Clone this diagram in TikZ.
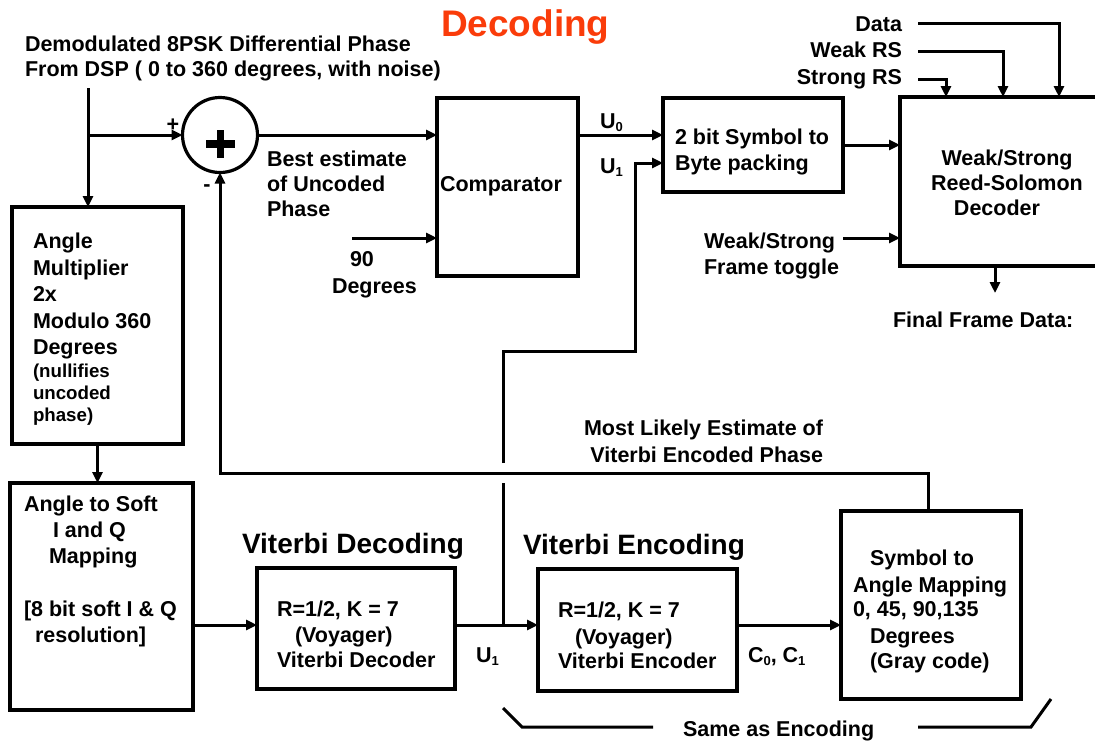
\documentclass[tikz,border=0pt]{standalone}
\usepackage{fontspec}
\setmainfont{Liberation Sans}
\usetikzlibrary{arrows.meta}
\definecolor{titlered}{RGB}{250,60,10}
\newcommand{\lsub}[1]{\raisebox{-0.35ex}{\fontsize{13}{13}\selectfont #1}}
\begin{document}
\begin{tikzpicture}[x=1pt,y=-1pt,
  every node/.style={inner sep=0pt, outer sep=0pt},
  box/.style={draw, line width=3.2pt, rectangle},
  ln/.style={line width=3pt},
  arr/.style={line width=3pt, -{Triangle[length=11pt,width=10pt]}},
  tx/.style={font=\fontsize{21.5}{25}\selectfont\bfseries, anchor=base west},
  txr/.style={font=\fontsize{21.5}{25}\selectfont\bfseries, anchor=base east},
  txc/.style={font=\fontsize{21.5}{25}\selectfont\bfseries, anchor=base},
  sm/.style={font=\fontsize{18.7}{22}\selectfont\bfseries, anchor=base west},
  head/.style={font=\fontsize{28}{32}\selectfont\bfseries, anchor=base west}
]
\useasboundingbox (0,0) rectangle (1095,742);

% ---------- boxes ----------
\node[box, minimum width=171pt, minimum height=237pt] (mult) at (97.5,325.5) {};
\node[box, minimum width=183pt, minimum height=227pt] (soft) at (101.5,596.5) {};
\node[box, minimum width=141pt, minimum height=178pt] (comp) at (507.5,187) {};
\node[box, minimum width=180pt, minimum height=94pt] (pack) at (753,145) {};
\node[box, minimum width=220pt, minimum height=169pt] (rs) at (1010,181.5) {};
\node[box, minimum width=198pt, minimum height=121pt] (vdec) at (356,628.5) {};
\node[box, minimum width=199pt, minimum height=122pt] (venc) at (637.5,630) {};
\node[box, minimum width=180pt, minimum height=188pt] (sym) at (931,605) {};
\node[draw, circle, line width=3.2pt, minimum size=75pt] (sum) at (220,135) {};
\draw[line width=7.5pt] (206,144) -- (235,144) (220.5,130) -- (220.5,158);

% ---------- coordinates ----------
\coordinate (inTop) at (88,88);
\coordinate (j) at (503,625);
\coordinate (hopB) at (503,483);
\coordinate (hopT) at (503,463);
\coordinate (s1) at (503,351);
\coordinate (s2) at (635,351);
\coordinate (s3) at (635,163);
\coordinate (fbA) at (928,473);
\coordinate (fbB) at (220,473);
\coordinate (u0y) at (0,135);
\coordinate (ninety) at (352,238);
\coordinate (tog) at (843,238);
\coordinate (dataS) at (918,23);
\coordinate (weakS) at (918,51);
\coordinate (strongS) at (918,79);
\coordinate (finalE) at (995,293);
\coordinate (brA) at (503,708);
\coordinate (brB) at (522,727);
\coordinate (brC) at (653,727);
\coordinate (brD) at (918,727);
\coordinate (brE) at (1031,727);
\coordinate (brF) at (1051,699);

% ---------- connectors ----------
\draw[arr] (inTop) -- (inTop |- mult.north);
\draw[arr] (inTop |- sum.west) -- (sum.west);
\draw[arr] (sum.east) -- (sum.east -| comp.west);
\draw[arr] (ninety) -- (ninety -| comp.west);
\draw[arr] (comp.east |- u0y) -- (pack.west |- u0y);
\draw[arr] (mult.south) -- (mult.south |- soft.north);
\draw[arr] (soft.east |- j) -- (vdec.west |- j);
\draw[arr] (vdec.east |- j) -- (venc.west |- j);
\draw[arr] (venc.east |- j) -- (sym.west |- j);
\draw[ln] (j) -- (hopB);
\draw[arr] (hopT) -- (s1) -- (s2) -- (s3) -- (s3 -| pack.west);
\draw[arr] (fbA |- sym.north) -- (fbA) -- (fbB) -- (sum.south);
\draw[arr] (pack.east) -- (pack.east -| rs.west);
\draw[arr] (tog) -- (tog -| rs.west);
\draw[arr] (dataS) -- (1059,23) -- (1059,23 |- rs.north);
\draw[arr] (weakS) -- (1003,51) -- (1003,51 |- rs.north);
\draw[arr] (strongS) -- (946,79) -- (946,79 |- rs.north);
\draw[arr] (finalE |- rs.south) -- (finalE);
\draw[ln] (brA) -- (brB) -- (brC);
\draw[ln] (brD) -- (brE) -- (brF);

% ---------- texts ----------
\node[anchor=base west, font=\fontsize{37}{40}\selectfont\bfseries, text=titlered] (title) at (441,36) {Decoding};
\node[tx] (in1) at (25,51) {Demodulated 8PSK Differential Phase};
\node[tx] (in2) at (25,76) {From DSP ( 0 to 360 degrees, with noise)};
\node[font=\fontsize{21.5}{25}\selectfont\bfseries] (plus) at (173,125) {+};
\node[font=\fontsize{21.5}{25}\selectfont\bfseries] (minus) at (207,188) {-};
\node[tx] (be1) at (267,166) {Best estimate};
\node[tx] (be2) at (267,191) {of Uncoded};
\node[tx] (be3) at (267,216) {Phase};
\node[tx] (n90) at (350,266) {90};
\node[tx] (ndeg) at (332,293) {Degrees};
\node[txc] (comptxt) at (501,191) {Comparator};
\node[tx] (u0) at (600,128) {U\lsub{0}};
\node[tx] (u1) at (600,173) {U\lsub{1}};
\node[tx] (pk1) at (675,144) {2 bit Symbol to};
\node[tx] (pk2) at (675,170) {Byte packing};
\node[txr] (dat) at (902,31) {Data};
\node[txr] (wrs) at (902,57) {Weak RS};
\node[txr] (srs) at (902,84) {Strong RS};
\node[txc] (rs1) at (1007,165) {Weak/Strong};
\node[txc] (rs2) at (1007,190) {Reed-Solomon};
\node[txc] (rs3) at (997,215) {Decoder};
\node[tx] (tg1) at (704,248) {Weak/Strong};
\node[tx] (tg2) at (704,274) {Frame toggle};
\node[tx] (fin) at (893,327) {Final Frame Data:};
\node[tx] (m1) at (33,248) {Angle};
\node[tx] (m2) at (33,275) {Multiplier};
\node[tx] (m3) at (33,301) {2x};
\node[tx] (m4) at (33,328) {Modulo 360};
\node[tx] (m5) at (33,354) {Degrees};
\node[sm] (m6) at (33,377) {(nullifies};
\node[sm] (m7) at (33,399) {uncoded};
\node[sm] (m8) at (33,421) {phase)};
\node[tx] (a1) at (24,511) {Angle to Soft};
\node[tx] (a2) at (53,537) {I and Q};
\node[tx] (a3) at (49,563) {Mapping};
\node[tx] (a4) at (24,616) {[8 bit soft I \& Q};
\node[tx] (a5) at (35,642) {resolution]};
\node[head] (hdec) at (242,553) {Viterbi Decoding};
\node[tx] (d1) at (277,616) {R=1/2, K = 7};
\node[tx] (d2) at (295,642) {(Voyager)};
\node[tx] (d3) at (277,667) {Viterbi Decoder};
\node[tx] (u1b) at (476,662) {U\lsub{1}};
\node[head] (henc) at (523,554) {Viterbi Encoding};
\node[tx] (e1) at (558,617) {R=1/2, K = 7};
\node[tx] (e2) at (575,644) {(Voyager)};
\node[tx] (e3) at (558,668) {Viterbi Encoder};
\node[tx] (cc) at (748,662) {C\lsub{0}, C\lsub{1}};
\node[txr] (ml1) at (823,435) {Most Likely Estimate of};
\node[txr] (ml2) at (823,462) {Viterbi Encoded Phase};
\node[tx] (sy1) at (870,565) {Symbol to};
\node[tx] (sy2) at (853,592) {Angle Mapping};
\node[tx] (sy3) at (853,616) {0, 45, 90,135};
\node[tx] (sy4) at (870,643) {Degrees};
\node[tx] (sy5) at (870,668) {(Gray code)};
\node[tx] (same) at (683,736) {Same as Encoding};
\end{tikzpicture}
\end{document}
